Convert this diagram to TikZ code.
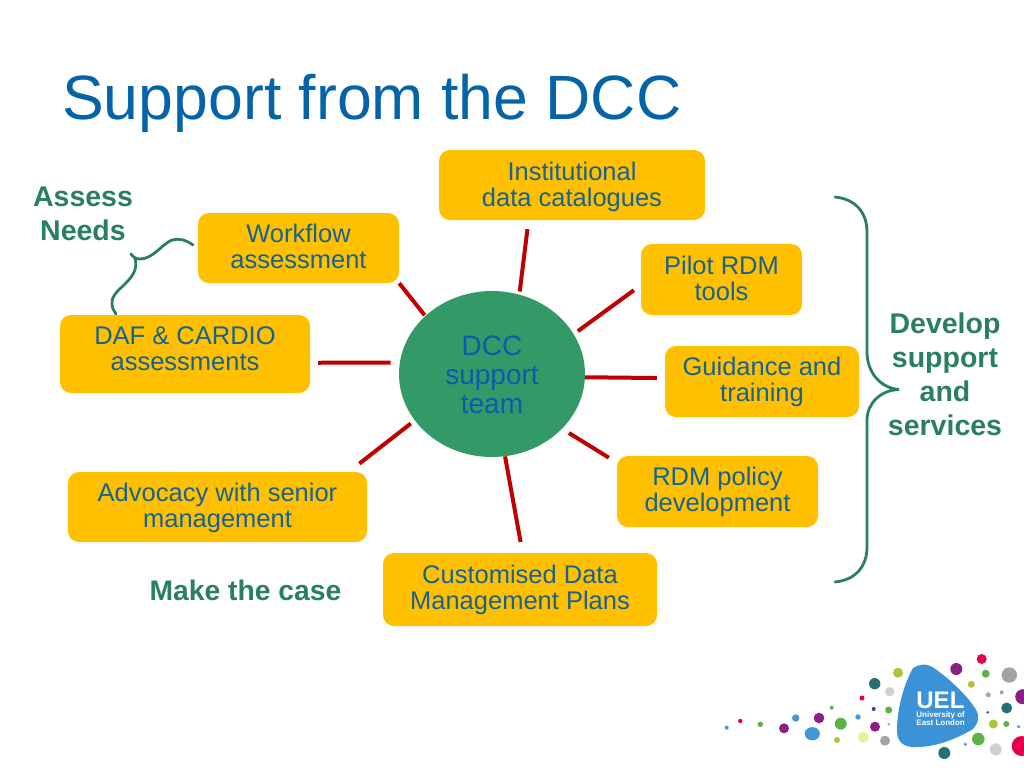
\documentclass[tikz,border=0pt]{standalone}
\usepackage{fontspec}
\setmainfont{Liberation Sans}
\definecolor{titleblue}{HTML}{0563A8}
\definecolor{boxfill}{HTML}{FFC000}
\definecolor{boxtext}{HTML}{17628F}
\definecolor{hubfill}{HTML}{339966}
\definecolor{hubtext}{HTML}{0B5CAD}
\definecolor{spokered}{HTML}{C00000}
\definecolor{labelgreen}{HTML}{2A7F5F}
\definecolor{uelblue}{HTML}{3B92D6}
\definecolor{dotblue}{HTML}{3F96D8}
\definecolor{dotred}{HTML}{E6004C}
\definecolor{dotgreen}{HTML}{5CB246}
\definecolor{dotpurple}{HTML}{8A2085}
\definecolor{dotolive}{HTML}{AFC23A}
\definecolor{dotyellow}{HTML}{E6F09A}
\definecolor{dotteal}{HTML}{256F75}
\definecolor{dotgrey}{HTML}{A3A3A3}
\definecolor{dotlight}{HTML}{CFCFD6}
\definecolor{dotnavy}{HTML}{2B4C9B}
\tikzset{
  infobox/.style={fill=boxfill,rounded corners=11pt,inner sep=0pt,text=boxtext,align=center,font=\fontsize{25.5}{26}\selectfont},
  hubnode/.style={ellipse,fill=hubfill,inner sep=0pt,minimum width=186pt,minimum height=166pt,text=hubtext,align=center,font=\fontsize{28}{29.3}\selectfont},
  spoke/.style={draw=spokered,line width=4pt},
  greenlabel/.style={text=labelgreen,align=center,font=\bfseries\fontsize{28.5}{34}\selectfont,inner sep=0pt},
  bracket/.style={draw=labelgreen,line width=2.8pt,line cap=round},
  dot/.style={fill=#1,draw=none}
}
\usetikzlibrary{shapes.geometric}
\begin{document}
\begin{tikzpicture}[x=1pt,y=-1pt]
\useasboundingbox (0,0) rectangle (1024,768);
\node[anchor=base west,inner sep=0pt,text=titleblue,font=\fontsize{62.6}{62.6}\selectfont] (title) at (62,119) {Support from the DCC};

\node[hubnode] (hub) at (492,374) {DCC\\support\\team\vspace{-2pt}};
\node[infobox,minimum width=266pt,minimum height=70pt] (catalogue) at (572,185) {Institutional\\data catalogues\vspace{-4pt}};
\node[infobox,minimum width=161pt,minimum height=71pt] (pilot) at (721.5,279.5) {Pilot RDM\\tools\vspace{2pt}};
\node[infobox,minimum width=194pt,minimum height=71pt] (guidance) at (762,381.5) {Guidance and\\training};
\node[infobox,minimum width=201pt,minimum height=71pt] (policy) at (717.5,491.5) {RDM policy\\development};
\node[infobox,minimum width=274pt,minimum height=73pt] (plans) at (520,589.5) {Customised Data\\Management Plans};
\node[infobox,minimum width=299pt,minimum height=70pt] (advocacy) at (217.5,507) {Advocacy with senior\\management\vspace{-2pt}};
\node[infobox,minimum width=250pt,minimum height=78pt] (daf) at (185,354) {DAF \& CARDIO\\assessments\vspace{10pt}};
\node[infobox,minimum width=201pt,minimum height=70pt] (workflow) at (298.5,248) {Workflow\\assessment\vspace{4pt}};

\draw[spoke,shorten <=3pt,shorten >=9pt] (hub.71) -- (catalogue.219.1);
\draw[spoke,shorten <=5pt,shorten >=8.6pt] (hub.26.6) -- (pilot.184.6);
\draw[spoke,shorten >=8pt] (hub.-2.6) -- (guidance.178.2);
\draw[spoke,shorten <=8pt,shorten >=9.4pt] (hub.-38.2) -- (policy.164.2);
\draw[spoke,shorten >=11pt] (hub.-81.7) -- (plans.86.9);
\draw[spoke,shorten <=5pt,shorten >=13.3pt] (hub.211.4) -- (advocacy.15.1);
\draw[spoke,shorten <=9pt,shorten >=8pt] (hub.173.2) -- (daf.-4.1);
\draw[spoke,shorten <=1pt] (hub.139.6) -- (workflow.south east);

\node[greenlabel] (assess) at (83,214) {Assess\\Needs};
\node[greenlabel] (develop) at (945,374) {Develop\\support\\and\\services};
\node[greenlabel,font=\bfseries\fontsize{28.3}{34}\selectfont] (makecase) at (245.5,590) {Make the case};

% curly bracket between the two assessment boxes
\draw[bracket] (193,245) .. controls (186,240) and (179,238) .. (172,240)
  .. controls (162,244) and (153,259) .. (140,259)
  .. controls (136,259) and (133,257) .. (131,254);
\draw[bracket] (135,258) .. controls (138,270) and (132,277) .. (124,285)
  .. controls (116,292) and (111,298) .. (112,304)
  .. controls (112,308) and (114,311) .. (116,314);

% large brace on the right
\draw[bracket] (835,197) .. controls (855,199) and (867,212) .. (867,232)
  -- (867,352) .. controls (867,372) and (880,388) .. (899,389.5)
  .. controls (880,390) and (867,404) .. (867,420)
  -- (867,547) .. controls (867,567) and (855,580) .. (835,582);

% logo dots
\foreach \px/\py/\pr/\pc in {
 726.7/727.7/2/dotblue, 740.3/721/2.2/dotred, 760.3/724.3/2.7/dotgreen, 784/728.3/5/dotpurple,
 795.7/718/3.7/dotblue, 819/718/5.3/dotpurple, 831.7/707.7/2/dotgreen, 840.7/723.7/6/dotgreen,
 837/740/3/dotolive, 858/717/2.7/dotblue, 863.3/737.3/5.5/dotyellow, 875/726.7/5/dotpurple,
 862/698/2.5/dotred, 873.7/709/2/dotnavy, 888.7/710/3.5/dotgreen, 888.7/724.3/1.4/dotgrey,
 885/740.7/5/dotgrey, 874.7/683.7/5.7/dotteal, 889.7/691.7/4.7/dotlight, 898/672.7/5/dotolive,
 956.3/669/6/dotpurple, 981.7/659/5/dotred, 985.7/673.7/4/dotgreen, 971.3/684.3/3.5/dotolive,
 1009.3/675/7.7/dotgrey, 988.3/694.7/2.5/dotgrey, 1001.7/692.3/2/dotgrey, 1022.7/696.7/7.5/dotpurple,
 1006.7/708/5.5/dotteal, 987.7/712.3/1.5/dotteal, 993.3/724/4.5/dotolive, 1006.3/724/3/dotgreen,
 1018.7/726.7/1.7/dotblue, 1021.7/746/10/dotred, 995.7/749.3/6/dotlight, 978.3/739/6.3/dotgreen,
 965.3/744.3/1.7/dotblue, 944.3/753/6/dotteal}
 {\fill[dot=\pc] (\px,\py) circle[radius=\pr pt];}
\fill[dot=dotblue] (812.3,733.7) ellipse[x radius=7.6pt,y radius=6.6pt];

% logo shape
\fill[uelblue] (913,668) .. controls (919,664) and (927,663) .. (934,668)
  .. controls (948,678) and (964,692) .. (975,708)
  .. controls (980,716) and (979,722) .. (973,729)
  .. controls (958,738) and (937,747) .. (917,747)
  .. controls (904,748) and (897,742) .. (897,731)
  .. controls (897,712) and (902,688) .. (913,668) -- cycle;
\node[anchor=north west,inner sep=0pt,text=white,align=left,font=\bfseries\fontsize{8}{8.7}\selectfont] (uel) at (916.2,691.8) {{\fontsize{24}{24}\selectfont UEL}\\University of\\East London};
\end{tikzpicture}
\end{document}
